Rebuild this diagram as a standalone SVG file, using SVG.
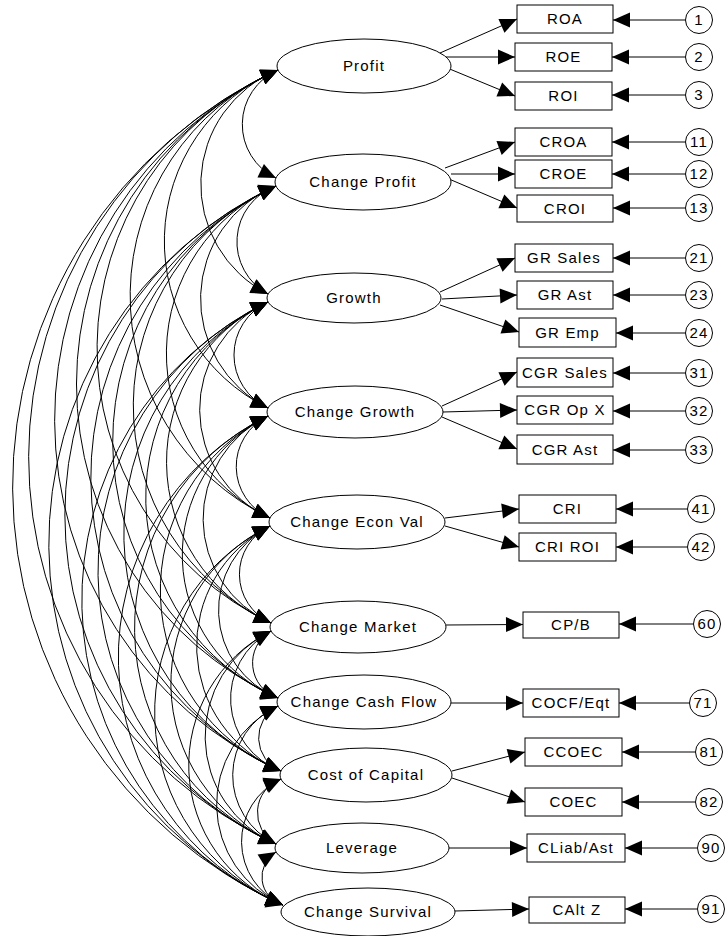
<svg xmlns="http://www.w3.org/2000/svg" width="727" height="936" viewBox="0 0 727 936">
<style>
.n ellipse,.n rect,.n circle{fill:#fff;stroke:#000;stroke-width:1}
text{font-family:"Liberation Sans",Arial,sans-serif;font-size:15px;fill:#000;text-anchor:middle;letter-spacing:1.2px}
.c path{fill:none;stroke:#000;stroke-width:1}
.c .cov path{marker-start:url(#ah);marker-end:url(#ah)}
.c .ld path,.c .er path{marker-end:url(#ah)}
</style>
<defs>
<marker id="ah" markerUnits="userSpaceOnUse" markerWidth="18" markerHeight="16" refX="17" refY="7.5" orient="auto-start-reverse" overflow="visible"><path d="M0,0 L17,7.5 L0,15 z" fill="#000"/></marker>
</defs>
<rect width="727" height="936" fill="#fff"/>
<g id="connectors" class="c">
<g class="cov">
<path d="M278,70 A59.4,59.4 0 0 0 276,178"/>
<path d="M278,70 A123.2,123.2 0 0 0 268,294"/>
<path d="M278,70 A185.9,185.9 0 0 0 268,408"/>
<path d="M278,70 A246.4,246.4 0 0 0 270,518"/>
<path d="M278,70 A304.2,304.2 0 0 0 271,623"/>
<path d="M278,70 A345.4,345.4 0 0 0 278,698"/>
<path d="M278,70 A385.6,385.6 0 0 0 281,771"/>
<path d="M278,70 A425.7,425.7 0 0 0 276,844"/>
<path d="M278,70 A459.3,459.3 0 0 0 283,905"/>
<path d="M276,186 A59.4,59.4 0 0 0 268,294"/>
<path d="M276,186 A122.1,122.1 0 0 0 268,408"/>
<path d="M276,186 A182.6,182.6 0 0 0 270,518"/>
<path d="M276,186 A240.4,240.4 0 0 0 271,623"/>
<path d="M276,186 A281.6,281.6 0 0 0 278,698"/>
<path d="M276,186 A321.8,321.8 0 0 0 281,771"/>
<path d="M276,186 A361.9,361.9 0 0 0 276,844"/>
<path d="M276,186 A395.5,395.5 0 0 0 283,905"/>
<path d="M268,302 A58.3,58.3 0 0 0 268,408"/>
<path d="M268,302 A118.8,118.8 0 0 0 270,518"/>
<path d="M268,302 A176.6,176.6 0 0 0 271,623"/>
<path d="M268,302 A217.8,217.8 0 0 0 278,698"/>
<path d="M268,302 A258,258 0 0 0 281,771"/>
<path d="M268,302 A298.1,298.1 0 0 0 276,844"/>
<path d="M268,302 A331.7,331.7 0 0 0 283,905"/>
<path d="M268,416 A56.1,56.1 0 0 0 270,518"/>
<path d="M268,416 A113.9,113.9 0 0 0 271,623"/>
<path d="M268,416 A155.1,155.1 0 0 0 278,698"/>
<path d="M268,416 A195.3,195.3 0 0 0 281,771"/>
<path d="M268,416 A235.4,235.4 0 0 0 276,844"/>
<path d="M268,416 A269,269 0 0 0 283,905"/>
<path d="M270,526 A53.4,53.4 0 0 0 271,623"/>
<path d="M270,526 A94.6,94.6 0 0 0 278,698"/>
<path d="M270,526 A134.8,134.8 0 0 0 281,771"/>
<path d="M270,526 A174.9,174.9 0 0 0 276,844"/>
<path d="M270,526 A208.5,208.5 0 0 0 283,905"/>
<path d="M271,631 A36.9,36.9 0 0 0 278,698"/>
<path d="M271,631 A77,77 0 0 0 281,771"/>
<path d="M271,631 A117.2,117.2 0 0 0 276,844"/>
<path d="M271,631 A150.7,150.7 0 0 0 283,905"/>
<path d="M278,706 A35.8,35.8 0 0 0 281,771"/>
<path d="M278,706 A75.9,75.9 0 0 0 276,844"/>
<path d="M278,706 A109.5,109.5 0 0 0 283,905"/>
<path d="M281,779 A35.8,35.8 0 0 0 276,844"/>
<path d="M281,779 A69.3,69.3 0 0 0 283,905"/>
<path d="M276,852 A29.2,29.2 0 0 0 283,905"/>
</g>
<g class="ld">
<path d="M440,53 L517,19"/>
<path d="M446,57 L515,57"/>
<path d="M440,65 L515,96"/>
<path d="M445,168 L515,142"/>
<path d="M451,174 L515,174"/>
<path d="M449,179 L517,208"/>
<path d="M440,292 L515,258"/>
<path d="M442,299 L517,295"/>
<path d="M440,305 L519,332"/>
<path d="M442,406 L517,372"/>
<path d="M443,412 L517,410"/>
<path d="M442,417 L517,449"/>
<path d="M445,518 L519,509"/>
<path d="M445,526 L519,547"/>
<path d="M446,625 L523,624.5"/>
<path d="M451,703 L523,703"/>
<path d="M452,771 L525,752"/>
<path d="M452,778 L525,802"/>
<path d="M449,848 L527,848"/>
<path d="M455,911 L529,909"/>
</g>
<g class="er">
<path d="M685.5,20 L613,20"/>
<path d="M685.5,57 L612,57"/>
<path d="M685.5,95 L612,95"/>
<path d="M685.5,142 L612,142"/>
<path d="M685.5,174 L612,174"/>
<path d="M685.5,208 L613,208"/>
<path d="M685.5,258 L613,258"/>
<path d="M685.5,295 L613,295"/>
<path d="M685.5,333 L616,333"/>
<path d="M685.5,373 L613,373"/>
<path d="M685.5,411 L613,411"/>
<path d="M685.5,450 L613,450"/>
<path d="M687.5,509 L616,509"/>
<path d="M687.5,547 L616,547"/>
<path d="M693.5,624 L619,624"/>
<path d="M689.5,703 L619,703"/>
<path d="M695.5,752 L622,752"/>
<path d="M695.5,802 L622,802"/>
<path d="M697.5,848 L625,848"/>
<path d="M697.5,909 L625,909"/>
</g>
</g>
<g id="lat-profit" class="n"><ellipse cx="364" cy="66" rx="87" ry="27"/><text x="364" y="71">Profit</text></g>
<g id="lat-changeprofit" class="n"><ellipse cx="363" cy="182" rx="88" ry="28"/><text x="363" y="187">Change Profit</text></g>
<g id="lat-growth" class="n"><ellipse cx="354" cy="298" rx="87" ry="25"/><text x="354" y="303">Growth</text></g>
<g id="lat-changegrowth" class="n"><ellipse cx="355" cy="412" rx="88" ry="26"/><text x="355" y="417">Change Growth</text></g>
<g id="lat-changeeconval" class="n"><ellipse cx="357" cy="522" rx="88" ry="27"/><text x="357" y="527">Change Econ Val</text></g>
<g id="lat-changemarket" class="n"><ellipse cx="358" cy="627" rx="88" ry="26"/><text x="358" y="632">Change Market</text></g>
<g id="lat-changecashflow" class="n"><ellipse cx="364" cy="702" rx="87" ry="27"/><text x="364" y="707">Change Cash Flow</text></g>
<g id="lat-costofcapital" class="n"><ellipse cx="366" cy="775" rx="86" ry="27"/><text x="366" y="780">Cost of Capital</text></g>
<g id="lat-leverage" class="n"><ellipse cx="362" cy="848" rx="87" ry="25"/><text x="362" y="853">Leverage</text></g>
<g id="lat-changesurvival" class="n"><ellipse cx="368" cy="912" rx="87" ry="24"/><text x="368" y="917">Change Survival</text></g>
<g id="obs-roa" class="n"><rect x="517" y="5" width="96" height="28"/><text x="565" y="24">ROA</text></g>
<g id="obs-roe" class="n"><rect x="515" y="43" width="97" height="28"/><text x="563.5" y="62">ROE</text></g>
<g id="obs-roi" class="n"><rect x="515" y="82" width="97" height="28"/><text x="563.5" y="101">ROI</text></g>
<g id="obs-croa" class="n"><rect x="515" y="128" width="97" height="28"/><text x="563.5" y="147">CROA</text></g>
<g id="obs-croe" class="n"><rect x="515" y="160" width="97" height="28"/><text x="563.5" y="179">CROE</text></g>
<g id="obs-croi" class="n"><rect x="517" y="195" width="96" height="27"/><text x="565" y="213.5">CROI</text></g>
<g id="obs-grsales" class="n"><rect x="515" y="244" width="98" height="28"/><text x="564" y="263">GR Sales</text></g>
<g id="obs-grast" class="n"><rect x="517" y="281" width="96" height="28"/><text x="565" y="300">GR Ast</text></g>
<g id="obs-gremp" class="n"><rect x="519" y="318" width="97" height="29"/><text x="567.5" y="338">GR Emp</text></g>
<g id="obs-cgrsales" class="n"><rect x="517" y="358" width="96" height="29"/><text x="565" y="378">CGR Sales</text></g>
<g id="obs-cgropx" class="n"><rect x="517" y="396" width="96" height="28"/><text x="565" y="415">CGR Op X</text></g>
<g id="obs-cgrast" class="n"><rect x="517" y="435" width="96" height="29"/><text x="565" y="455">CGR Ast</text></g>
<g id="obs-cri" class="n"><rect x="519" y="495" width="97" height="28"/><text x="567.5" y="514">CRI</text></g>
<g id="obs-criroi" class="n"><rect x="519" y="533" width="97" height="28"/><text x="567.5" y="552">CRI ROI</text></g>
<g id="obs-cpb" class="n"><rect x="523" y="612" width="96" height="26"/><text x="571" y="630">CP/B</text></g>
<g id="obs-cocfeqt" class="n"><rect x="523" y="689" width="96" height="28"/><text x="571" y="708">COCF/Eqt</text></g>
<g id="obs-ccoec" class="n"><rect x="525" y="738" width="97" height="28"/><text x="573.5" y="757">CCOEC</text></g>
<g id="obs-coec" class="n"><rect x="525" y="788" width="97" height="28"/><text x="573.5" y="807">COEC</text></g>
<g id="obs-cliabast" class="n"><rect x="527" y="834" width="98" height="28"/><text x="576" y="853">CLiab/Ast</text></g>
<g id="obs-caltz" class="n"><rect x="529" y="897" width="96" height="26"/><text x="577" y="915">CAlt Z</text></g>
<g id="err-1" class="n"><circle cx="699" cy="20" r="13.5"/><text x="699" y="25">1</text></g>
<g id="err-2" class="n"><circle cx="699" cy="57" r="13.5"/><text x="699" y="62">2</text></g>
<g id="err-3" class="n"><circle cx="699" cy="95" r="13.5"/><text x="699" y="100">3</text></g>
<g id="err-11" class="n"><circle cx="699" cy="142" r="13.5"/><text x="699" y="147">11</text></g>
<g id="err-12" class="n"><circle cx="699" cy="174" r="13.5"/><text x="699" y="179">12</text></g>
<g id="err-13" class="n"><circle cx="699" cy="208" r="13.5"/><text x="699" y="213">13</text></g>
<g id="err-21" class="n"><circle cx="699" cy="258" r="13.5"/><text x="699" y="263">21</text></g>
<g id="err-23" class="n"><circle cx="699" cy="295" r="13.5"/><text x="699" y="300">23</text></g>
<g id="err-24" class="n"><circle cx="699" cy="333" r="13.5"/><text x="699" y="338">24</text></g>
<g id="err-31" class="n"><circle cx="699" cy="373" r="13.5"/><text x="699" y="378">31</text></g>
<g id="err-32" class="n"><circle cx="699" cy="411" r="13.5"/><text x="699" y="416">32</text></g>
<g id="err-33" class="n"><circle cx="699" cy="450" r="13.5"/><text x="699" y="455">33</text></g>
<g id="err-41" class="n"><circle cx="701" cy="509" r="13.5"/><text x="701" y="514">41</text></g>
<g id="err-42" class="n"><circle cx="701" cy="547" r="13.5"/><text x="701" y="552">42</text></g>
<g id="err-60" class="n"><circle cx="707" cy="624" r="13.5"/><text x="707" y="629">60</text></g>
<g id="err-71" class="n"><circle cx="703" cy="703" r="13.5"/><text x="703" y="708">71</text></g>
<g id="err-81" class="n"><circle cx="709" cy="752" r="13.5"/><text x="709" y="757">81</text></g>
<g id="err-82" class="n"><circle cx="709" cy="802" r="13.5"/><text x="709" y="807">82</text></g>
<g id="err-90" class="n"><circle cx="711" cy="848" r="13.5"/><text x="711" y="853">90</text></g>
<g id="err-91" class="n"><circle cx="711" cy="909" r="13.5"/><text x="711" y="914">91</text></g>
</svg>
